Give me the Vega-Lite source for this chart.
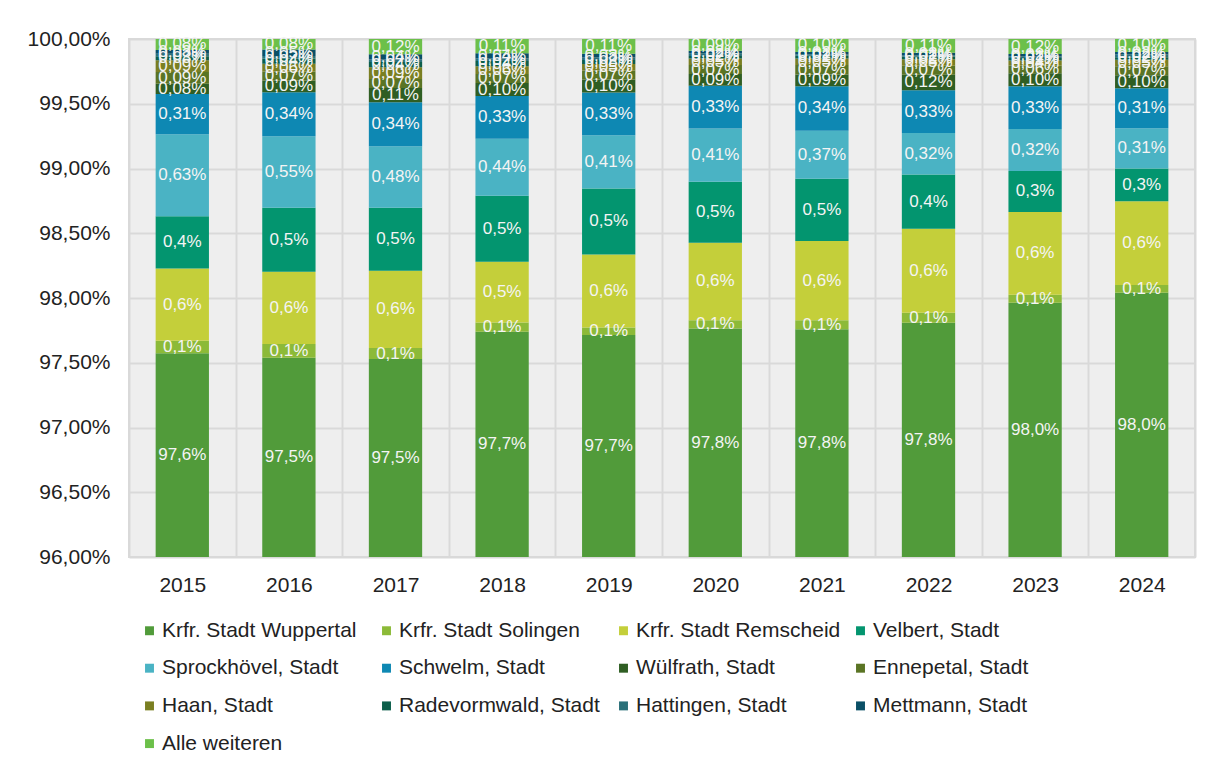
{
  "$schema": "https://vega.github.io/schema/vega-lite/v6.json",
  "width": 1066,
  "height": 518,
  "autosize": {"type": "none"},
  "padding": {"left": 129, "top": 39, "right": 11, "bottom": 207},
  "background": "white",
  "config": {
    "locale": {"number": {"decimal": ",", "thousands": ".", "grouping": [3], "currency": ["", " €"]}},
    "font": "Liberation Sans",
    "view": {"stroke": "#d9d9d9", "strokeWidth": 2, "fill": "#eeeeee"}
  },
  "data": {
    "values": [
      {"year": "2015", "city": "Krfr. Stadt Wuppertal", "share": 0.97573},
      {"year": "2015", "city": "Krfr. Stadt Solingen", "share": 0.00097},
      {"year": "2015", "city": "Krfr. Stadt Remscheid", "share": 0.00558},
      {"year": "2015", "city": "Velbert, Stadt", "share": 0.00404},
      {"year": "2015", "city": "Sprockhövel, Stadt", "share": 0.00633},
      {"year": "2015", "city": "Schwelm, Stadt", "share": 0.0031},
      {"year": "2015", "city": "Wülfrath, Stadt", "share": 0.0008},
      {"year": "2015", "city": "Ennepetal, Stadt", "share": 0.0009},
      {"year": "2015", "city": "Haan, Stadt", "share": 0.00091},
      {"year": "2015", "city": "Radevormwald, Stadt", "share": 0.0003},
      {"year": "2015", "city": "Hattingen, Stadt", "share": 0.0002},
      {"year": "2015", "city": "Mettmann, Stadt", "share": 0.0003},
      {"year": "2015", "city": "Alle weiteren", "share": 0.00084},

      {"year": "2016", "city": "Krfr. Stadt Wuppertal", "share": 0.97539},
      {"year": "2016", "city": "Krfr. Stadt Solingen", "share": 0.00105},
      {"year": "2016", "city": "Krfr. Stadt Remscheid", "share": 0.00558},
      {"year": "2016", "city": "Velbert, Stadt", "share": 0.00494},
      {"year": "2016", "city": "Sprockhövel, Stadt", "share": 0.00553},
      {"year": "2016", "city": "Schwelm, Stadt", "share": 0.0034},
      {"year": "2016", "city": "Wülfrath, Stadt", "share": 0.0009},
      {"year": "2016", "city": "Ennepetal, Stadt", "share": 0.0007},
      {"year": "2016", "city": "Haan, Stadt", "share": 0.0006},
      {"year": "2016", "city": "Radevormwald, Stadt", "share": 0.0004},
      {"year": "2016", "city": "Hattingen, Stadt", "share": 0.0002},
      {"year": "2016", "city": "Mettmann, Stadt", "share": 0.0005},
      {"year": "2016", "city": "Alle weiteren", "share": 0.00081},

      {"year": "2017", "city": "Krfr. Stadt Wuppertal", "share": 0.97529},
      {"year": "2017", "city": "Krfr. Stadt Solingen", "share": 0.00084},
      {"year": "2017", "city": "Krfr. Stadt Remscheid", "share": 0.00597},
      {"year": "2017", "city": "Velbert, Stadt", "share": 0.00486},
      {"year": "2017", "city": "Sprockhövel, Stadt", "share": 0.00476},
      {"year": "2017", "city": "Schwelm, Stadt", "share": 0.0034},
      {"year": "2017", "city": "Wülfrath, Stadt", "share": 0.0011},
      {"year": "2017", "city": "Ennepetal, Stadt", "share": 0.0007},
      {"year": "2017", "city": "Haan, Stadt", "share": 0.0009},
      {"year": "2017", "city": "Radevormwald, Stadt", "share": 0.0004},
      {"year": "2017", "city": "Hattingen, Stadt", "share": 0.0002},
      {"year": "2017", "city": "Mettmann, Stadt", "share": 0.0004},
      {"year": "2017", "city": "Alle weiteren", "share": 0.00118},

      {"year": "2018", "city": "Krfr. Stadt Wuppertal", "share": 0.9774},
      {"year": "2018", "city": "Krfr. Stadt Solingen", "share": 0.0007},
      {"year": "2018", "city": "Krfr. Stadt Remscheid", "share": 0.0047},
      {"year": "2018", "city": "Velbert, Stadt", "share": 0.0051},
      {"year": "2018", "city": "Sprockhövel, Stadt", "share": 0.0044},
      {"year": "2018", "city": "Schwelm, Stadt", "share": 0.0033},
      {"year": "2018", "city": "Wülfrath, Stadt", "share": 0.001},
      {"year": "2018", "city": "Ennepetal, Stadt", "share": 0.0007},
      {"year": "2018", "city": "Haan, Stadt", "share": 0.0006},
      {"year": "2018", "city": "Radevormwald, Stadt", "share": 0.0004},
      {"year": "2018", "city": "Hattingen, Stadt", "share": 0.0002},
      {"year": "2018", "city": "Mettmann, Stadt", "share": 0.0004},
      {"year": "2018", "city": "Alle weiteren", "share": 0.0011},

      {"year": "2019", "city": "Krfr. Stadt Wuppertal", "share": 0.97714},
      {"year": "2019", "city": "Krfr. Stadt Solingen", "share": 0.00058},
      {"year": "2019", "city": "Krfr. Stadt Remscheid", "share": 0.00564},
      {"year": "2019", "city": "Velbert, Stadt", "share": 0.0051},
      {"year": "2019", "city": "Sprockhövel, Stadt", "share": 0.00411},
      {"year": "2019", "city": "Schwelm, Stadt", "share": 0.0033},
      {"year": "2019", "city": "Wülfrath, Stadt", "share": 0.001},
      {"year": "2019", "city": "Ennepetal, Stadt", "share": 0.0007},
      {"year": "2019", "city": "Haan, Stadt", "share": 0.0005},
      {"year": "2019", "city": "Radevormwald, Stadt", "share": 0.0003},
      {"year": "2019", "city": "Hattingen, Stadt", "share": 0.0002},
      {"year": "2019", "city": "Mettmann, Stadt", "share": 0.0003},
      {"year": "2019", "city": "Alle weiteren", "share": 0.00113},

      {"year": "2020", "city": "Krfr. Stadt Wuppertal", "share": 0.97765},
      {"year": "2020", "city": "Krfr. Stadt Solingen", "share": 0.00064},
      {"year": "2020", "city": "Krfr. Stadt Remscheid", "share": 0.00597},
      {"year": "2020", "city": "Velbert, Stadt", "share": 0.00471},
      {"year": "2020", "city": "Sprockhövel, Stadt", "share": 0.00412},
      {"year": "2020", "city": "Schwelm, Stadt", "share": 0.0033},
      {"year": "2020", "city": "Wülfrath, Stadt", "share": 0.0009},
      {"year": "2020", "city": "Ennepetal, Stadt", "share": 0.0007},
      {"year": "2020", "city": "Haan, Stadt", "share": 0.0005},
      {"year": "2020", "city": "Radevormwald, Stadt", "share": 0.0002},
      {"year": "2020", "city": "Hattingen, Stadt", "share": 0.0002},
      {"year": "2020", "city": "Mettmann, Stadt", "share": 0.0002},
      {"year": "2020", "city": "Alle weiteren", "share": 0.00091},

      {"year": "2021", "city": "Krfr. Stadt Wuppertal", "share": 0.97758},
      {"year": "2021", "city": "Krfr. Stadt Solingen", "share": 0.00071},
      {"year": "2021", "city": "Krfr. Stadt Remscheid", "share": 0.00612},
      {"year": "2021", "city": "Velbert, Stadt", "share": 0.00479},
      {"year": "2021", "city": "Sprockhövel, Stadt", "share": 0.00372},
      {"year": "2021", "city": "Schwelm, Stadt", "share": 0.00344},
      {"year": "2021", "city": "Wülfrath, Stadt", "share": 0.0009},
      {"year": "2021", "city": "Ennepetal, Stadt", "share": 0.00074},
      {"year": "2021", "city": "Haan, Stadt", "share": 0.0005},
      {"year": "2021", "city": "Radevormwald, Stadt", "share": 0.0002},
      {"year": "2021", "city": "Hattingen, Stadt", "share": 0.0001},
      {"year": "2021", "city": "Mettmann, Stadt", "share": 0.0002},
      {"year": "2021", "city": "Alle weiteren", "share": 0.001},

      {"year": "2022", "city": "Krfr. Stadt Wuppertal", "share": 0.97809},
      {"year": "2022", "city": "Krfr. Stadt Solingen", "share": 0.00077},
      {"year": "2022", "city": "Krfr. Stadt Remscheid", "share": 0.00648},
      {"year": "2022", "city": "Velbert, Stadt", "share": 0.0042},
      {"year": "2022", "city": "Sprockhövel, Stadt", "share": 0.00321},
      {"year": "2022", "city": "Schwelm, Stadt", "share": 0.0033},
      {"year": "2022", "city": "Wülfrath, Stadt", "share": 0.00119},
      {"year": "2022", "city": "Ennepetal, Stadt", "share": 0.0007},
      {"year": "2022", "city": "Haan, Stadt", "share": 0.0005},
      {"year": "2022", "city": "Radevormwald, Stadt", "share": 0.0002},
      {"year": "2022", "city": "Hattingen, Stadt", "share": 0.0001},
      {"year": "2022", "city": "Mettmann, Stadt", "share": 0.0002},
      {"year": "2022", "city": "Alle weiteren", "share": 0.00106},

      {"year": "2023", "city": "Krfr. Stadt Wuppertal", "share": 0.97963},
      {"year": "2023", "city": "Krfr. Stadt Solingen", "share": 0.00062},
      {"year": "2023", "city": "Krfr. Stadt Remscheid", "share": 0.0064},
      {"year": "2023", "city": "Velbert, Stadt", "share": 0.00316},
      {"year": "2023", "city": "Sprockhövel, Stadt", "share": 0.00324},
      {"year": "2023", "city": "Schwelm, Stadt", "share": 0.0033},
      {"year": "2023", "city": "Wülfrath, Stadt", "share": 0.001},
      {"year": "2023", "city": "Ennepetal, Stadt", "share": 0.0006},
      {"year": "2023", "city": "Haan, Stadt", "share": 0.00039},
      {"year": "2023", "city": "Radevormwald, Stadt", "share": 0.0002},
      {"year": "2023", "city": "Hattingen, Stadt", "share": 0.0001},
      {"year": "2023", "city": "Mettmann, Stadt", "share": 0.0002},
      {"year": "2023", "city": "Alle weiteren", "share": 0.00116},

      {"year": "2024", "city": "Krfr. Stadt Wuppertal", "share": 0.9804},
      {"year": "2024", "city": "Krfr. Stadt Solingen", "share": 0.0006},
      {"year": "2024", "city": "Krfr. Stadt Remscheid", "share": 0.00648},
      {"year": "2024", "city": "Velbert, Stadt", "share": 0.00252},
      {"year": "2024", "city": "Sprockhövel, Stadt", "share": 0.0031},
      {"year": "2024", "city": "Schwelm, Stadt", "share": 0.0031},
      {"year": "2024", "city": "Wülfrath, Stadt", "share": 0.001},
      {"year": "2024", "city": "Ennepetal, Stadt", "share": 0.0007},
      {"year": "2024", "city": "Haan, Stadt", "share": 0.0005},
      {"year": "2024", "city": "Radevormwald, Stadt", "share": 0.0002},
      {"year": "2024", "city": "Hattingen, Stadt", "share": 0.0002},
      {"year": "2024", "city": "Mettmann, Stadt", "share": 0.0002},
      {"year": "2024", "city": "Alle weiteren", "share": 0.001}
    ]
  },
  "transform": [
    {"calculate": "indexof(['Krfr. Stadt Wuppertal','Krfr. Stadt Solingen','Krfr. Stadt Remscheid','Velbert, Stadt','Sprockhövel, Stadt','Schwelm, Stadt','Wülfrath, Stadt','Ennepetal, Stadt','Haan, Stadt','Radevormwald, Stadt','Hattingen, Stadt','Mettmann, Stadt','Alle weiteren'], datum.city)", "as": "ord"},
    {"stack": "share", "groupby": ["year"], "sort": [{"field": "ord", "order": "ascending"}], "as": ["s0", "s1"]},
    {"calculate": "(max(datum.s0, 0.96) + datum.s1) / 2", "as": "mid"}
  ],
  "encoding": {
    "x": {
      "field": "year",
      "type": "ordinal",
      "scale": {"paddingInner": 0, "paddingOuter": 0},
      "axis": {
        "title": null,
        "labelAngle": 0,
        "ticks": false,
        "domain": false,
        "grid": true,
        "tickBand": "extent",
        "gridColor": "#d9d9d9",
        "gridWidth": 2,
        "labelFontSize": 21,
        "labelPadding": 17,
        "labelColor": "#222222"
      }
    }
  },
  "layer": [
    {
      "mark": {"type": "bar", "width": {"band": 0.5}, "clip": true},
      "encoding": {
        "y": {
          "field": "s0",
          "type": "quantitative",
          "scale": {"domain": [0.96, 1], "nice": false, "zero": false},
          "axis": {
            "title": null,
            "values": [0.96, 0.965, 0.97, 0.975, 0.98, 0.985, 0.99, 0.995, 1],
            "format": ".2%",
            "ticks": false,
            "domain": false,
            "labelFontSize": 21,
            "labelColor": "#222222",
            "labelPadding": 19,
            "gridColor": "#d9d9d9",
            "gridWidth": 2
          }
        },
        "y2": {"field": "s1"},
        "color": {
          "field": "city",
          "type": "nominal",
          "scale": {
            "domain": ["Krfr. Stadt Wuppertal", "Krfr. Stadt Solingen", "Krfr. Stadt Remscheid", "Velbert, Stadt", "Sprockhövel, Stadt", "Schwelm, Stadt", "Wülfrath, Stadt", "Ennepetal, Stadt", "Haan, Stadt", "Radevormwald, Stadt", "Hattingen, Stadt", "Mettmann, Stadt", "Alle weiteren"],
            "range": ["#519b3a", "#8cba38", "#c4cf3a", "#03956f", "#4ab3c4", "#0e88b3", "#2f5e23", "#5a7424", "#7a7f22", "#0c5e4a", "#2a7079", "#0a4f66", "#6cc04a"]
          },
          "legend": {
            "orient": "none",
            "legendX": 10,
            "legendY": 581,
            "direction": "horizontal",
            "columns": 4,
            "title": null,
            "symbolType": "square",
            "symbolSize": 80,
            "symbolStrokeWidth": 0,
            "labelFontSize": 21,
            "labelColor": "#222222",
            "columnPadding": 9,
            "rowPadding": 15.7,
            "gridAlign": "all",
            "labelOffset": 2,
            "labelLimit": 300
          }
        }
      }
    },
    {
      "transform": [{"filter": {"field": "city", "oneOf": ["Krfr. Stadt Wuppertal", "Krfr. Stadt Solingen", "Krfr. Stadt Remscheid", "Velbert, Stadt"]}}],
      "mark": {"type": "text", "fontSize": 17, "color": "#f4f4f4", "align": "center", "baseline": "middle"},
      "encoding": {
        "y": {"field": "mid", "type": "quantitative"},
        "text": {"field": "share", "type": "quantitative", "format": ".1%"}
      }
    },
    {
      "transform": [{"filter": {"not": {"field": "city", "oneOf": ["Krfr. Stadt Wuppertal", "Krfr. Stadt Solingen", "Krfr. Stadt Remscheid", "Velbert, Stadt"]}}}],
      "mark": {"type": "text", "fontSize": 17, "color": "#f4f4f4", "align": "center", "baseline": "middle"},
      "encoding": {
        "y": {"field": "mid", "type": "quantitative"},
        "text": {"field": "share", "type": "quantitative", "format": ".2%"}
      }
    }
  ]
}
